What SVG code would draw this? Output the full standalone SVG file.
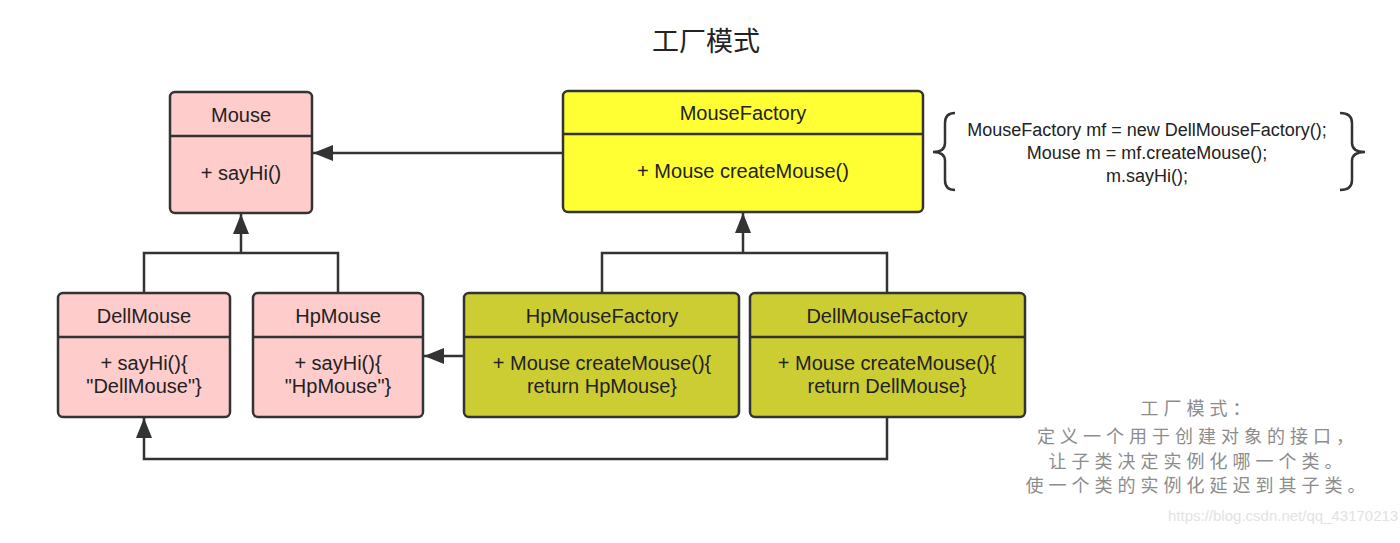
<svg xmlns="http://www.w3.org/2000/svg" width="1400" height="543" viewBox="0 0 1400 543">
<style>
.box{stroke:#333;stroke-width:2.5}
.pink{fill:#FFCCCC}
.yellow{fill:#FFFF33}
.olive{fill:#CCCC33}
.div{stroke:#333;stroke-width:2.5}
.t{font-family:"Liberation Sans",Arial,sans-serif;font-size:20px;fill:#222;text-anchor:middle}
.code{font-family:"Liberation Sans",Arial,sans-serif;font-size:18px;fill:#222;text-anchor:middle}
.conn{fill:none;stroke:#333;stroke-width:2.5}
.cn{font-family:"Noto Sans CJK SC",sans-serif;text-anchor:middle}
</style>
<defs>
<marker id="arr" viewBox="0 0 20 16" refX="20" refY="8" markerWidth="20" markerHeight="16" markerUnits="userSpaceOnUse" orient="auto">
<path d="M0,0 L20,8 L0,16 Z" fill="#333"/>
</marker>
</defs>
<rect width="1400" height="543" fill="#fff"/>
<text class="cn" x="706" y="51" font-size="27" fill="#222">工厂模式</text>

<g id="connectors">
<path class="conn" d="M563,153 L313,153" marker-end="url(#arr)"/>
<path class="conn" d="M144,293 L144,253 L338,253 L338,293"/>
<path class="conn" d="M241,253 L241,214" marker-end="url(#arr)"/>
<path class="conn" d="M602,293 L602,253 L887,253 L887,293"/>
<path class="conn" d="M743,253 L743,213" marker-end="url(#arr)"/>
<path class="conn" d="M464,356 L424,356" marker-end="url(#arr)"/>
<path class="conn" d="M887,417 L887,459 L144,459 L144,418" marker-end="url(#arr)"/>
</g>

<g id="Mouse">
<rect class="box pink" x="170" y="92" width="142" height="121" rx="5"/>
<line class="div" x1="170" y1="136" x2="312" y2="136"/>
<text class="t" x="241" y="122">Mouse</text>
<text class="t" x="241" y="180">+ sayHi()</text>
</g>

<g id="MouseFactory">
<rect class="box yellow" x="563" y="91" width="360" height="121" rx="5"/>
<line class="div" x1="563" y1="134" x2="923" y2="134"/>
<text class="t" x="743" y="120">MouseFactory</text>
<text class="t" x="743" y="178">+ Mouse createMouse()</text>
</g>

<g id="note">
<path class="conn" stroke-width="2" d="M955,113 Q945,113 945,123 L945,143 Q945,152 933,152 Q945,152 945,161 L945,180 Q945,190 955,190"/>
<path class="conn" stroke-width="2" d="M1340,113 Q1352,113 1352,123 L1352,143 Q1352,152 1365,152 Q1352,152 1352,161 L1352,180 Q1352,190 1340,190"/>
<text class="code" x="1147" y="136">MouseFactory mf = new DellMouseFactory();</text>
<text class="code" x="1147" y="159">Mouse m = mf.createMouse();</text>
<text class="code" x="1147" y="182">m.sayHi();</text>
</g>

<g id="DellMouse">
<rect class="box pink" x="58" y="293" width="172" height="124" rx="5"/>
<line class="div" x1="58" y1="337" x2="230" y2="337"/>
<text class="t" x="144" y="323">DellMouse</text>
<text class="t" x="144" y="370">+ sayHi(){</text>
<text class="t" x="144" y="393">"DellMouse"}</text>
</g>

<g id="HpMouse">
<rect class="box pink" x="253" y="293" width="170" height="124" rx="5"/>
<line class="div" x1="253" y1="337" x2="423" y2="337"/>
<text class="t" x="338" y="323">HpMouse</text>
<text class="t" x="338" y="370">+ sayHi(){</text>
<text class="t" x="338" y="393">"HpMouse"}</text>
</g>

<g id="HpMouseFactory">
<rect class="box olive" x="464" y="293" width="275" height="124" rx="5"/>
<line class="div" x1="464" y1="337" x2="739" y2="337"/>
<text class="t" x="602" y="323">HpMouseFactory</text>
<text class="t" x="602" y="370">+ Mouse createMouse(){</text>
<text class="t" x="602" y="393">return HpMouse}</text>
</g>

<g id="DellMouseFactory">
<rect class="box olive" x="750" y="293" width="275" height="124" rx="5"/>
<line class="div" x1="750" y1="337" x2="1025" y2="337"/>
<text class="t" x="887" y="323">DellMouseFactory</text>
<text class="t" x="887" y="370">+ Mouse createMouse(){</text>
<text class="t" x="887" y="393">return DellMouse}</text>
</g>

<g id="description" class="cn" font-size="18" fill="#8c8c8c" letter-spacing="5">
<text x="1198" y="415">工厂模式：</text>
<text x="1198" y="443">定义一个用于创建对象的接口，</text>
<text x="1198" y="468">让子类决定实例化哪一个类。</text>
<text x="1198" y="492">使一个类的实例化延迟到其子类。</text>
</g>
<text x="1168" y="521" font-family="Liberation Sans, Arial, sans-serif" font-size="15" fill="#e2e2e2">https://blog.csdn.net/qq_43170213</text>
</svg>
